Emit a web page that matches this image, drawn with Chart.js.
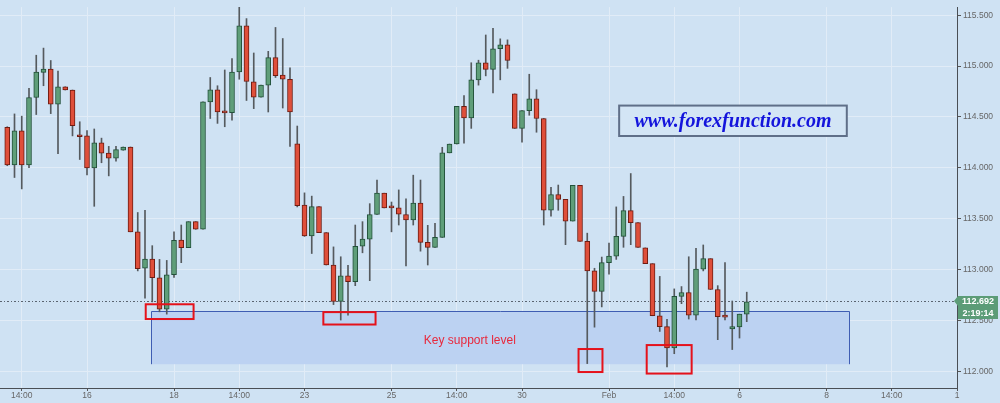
<!DOCTYPE html>
<html>
<head>
<meta charset="utf-8">
<style>
  * { margin: 0; padding: 0; box-sizing: border-box; }
  body { width: 1000px; height: 403px; overflow: hidden; background: #cfe2f3; }
  .chartBox { width: 1000px; height: 403px; }
</style>
</head>
<body>
<div class="chartBox"><canvas id="myChart"></canvas></div>

<script src="https://cdn.jsdelivr.net/npm/chart.js/dist/chart.umd.min.js"></script>
<script>
// 4h candles, oldest first
const opens = [
  114.398, 114.028, 114.363, 114.028, 114.691, 114.939, 114.971, 114.627, 114.797, 114.765,
  114.310, 114.314, 113.999, 114.247, 114.144, 114.095, 114.173, 114.205, 113.371, 113.013,
  113.103, 112.920, 112.611, 112.949, 113.290, 113.216, 113.471, 113.396, 114.649, 114.768,
  114.553, 114.543, 114.942, 115.396, 114.846, 114.694, 114.813, 115.084, 114.913, 114.871,
  114.237, 113.635, 113.332, 113.619, 113.364, 113.045, 112.688, 112.939, 112.881, 113.229,
  113.300, 113.541, 113.751, 113.611, 113.606, 113.541, 113.487, 113.654, 113.268, 113.219,
  113.316, 114.147, 114.234, 114.604, 114.491, 114.865, 115.033, 114.968, 115.171, 115.210,
  114.727, 114.388, 114.562, 114.678, 114.485, 113.583, 113.738, 113.690, 113.477, 113.828,
  113.277, 112.987, 112.785, 113.068, 113.132, 113.326, 113.580, 113.461, 113.213, 113.058,
  112.546, 112.440, 112.231, 112.736, 112.775, 112.553, 113.004, 113.107, 112.804, 112.546,
  112.417, 112.437, 112.562
];
const highs = [
  114.404, 114.530, 114.508, 114.781, 115.107, 115.177, 115.055, 114.952, 114.797, 114.765,
  114.453, 114.366, 114.382, 114.292, 114.211, 114.211, 114.205, 114.205, 113.561, 113.583,
  113.235, 113.100, 113.090, 113.371, 113.438, 113.471, 113.471, 114.649, 114.888, 114.807,
  114.962, 115.074, 115.620, 115.467, 115.129, 114.813, 115.145, 115.380, 115.271, 114.984,
  114.411, 113.754, 113.722, 113.619, 113.364, 113.223, 113.126, 113.042, 113.438, 113.471,
  113.648, 113.880, 113.751, 113.664, 113.783, 113.696, 113.928, 113.880, 113.435, 113.454,
  114.202, 114.234, 114.604, 114.710, 115.033, 115.058, 115.306, 115.371, 115.268, 115.258,
  114.727, 114.562, 114.920, 114.768, 114.485, 113.809, 113.831, 113.690, 113.828, 113.828,
  113.358, 113.013, 113.123, 113.261, 113.616, 113.719, 113.944, 113.461, 113.213, 113.058,
  112.933, 112.511, 112.810, 112.833, 113.126, 113.210, 113.242, 113.107, 112.842, 113.068,
  112.691, 112.562, 112.778
];
const lows = [
  114.021, 113.905, 113.793, 114.002, 114.524, 114.807, 114.533, 114.140, 114.765, 114.314,
  114.082, 113.931, 113.622, 114.050, 113.921, 114.066, 114.173, 113.371, 112.987, 112.720,
  112.682, 112.585, 112.562, 112.923, 113.068, 113.216, 113.396, 113.396, 114.485, 114.437,
  114.404, 114.469, 114.871, 114.662, 114.582, 114.694, 114.549, 114.888, 114.588, 114.211,
  113.616, 113.326, 113.158, 113.364, 113.045, 112.656, 112.504, 112.553, 112.842, 113.165,
  112.891, 113.541, 113.606, 113.371, 113.438, 113.036, 113.438, 113.181, 113.045, 113.219,
  113.316, 114.147, 114.234, 114.243, 114.388, 114.813, 114.904, 114.736, 114.865, 114.978,
  114.388, 114.253, 114.517, 114.350, 113.438, 113.525, 113.583, 113.245, 113.477, 113.277,
  112.076, 112.434, 112.633, 112.955, 113.100, 113.219, 113.245, 113.219, 113.058, 112.546,
  112.392, 112.044, 112.173, 112.665, 112.514, 112.504, 112.987, 112.804, 112.311, 112.504,
  112.214, 112.327, 112.488
];
const closes = [
  114.028, 114.363, 114.028, 114.691, 114.942, 114.971, 114.627, 114.797, 114.765, 114.414,
  114.306, 113.999, 114.247, 114.144, 114.095, 114.179, 114.205, 113.371, 113.010, 113.103,
  112.920, 112.611, 112.949, 113.287, 113.216, 113.471, 113.396, 114.649, 114.768, 114.549,
  114.540, 114.942, 115.396, 114.849, 114.694, 114.813, 115.084, 114.907, 114.871, 114.549,
  113.628, 113.332, 113.619, 113.364, 113.045, 112.688, 112.939, 112.881, 113.229, 113.300,
  113.541, 113.751, 113.606, 113.607, 113.545, 113.487, 113.654, 113.268, 113.219, 113.316,
  114.147, 114.234, 114.604, 114.491, 114.865, 115.033, 114.968, 115.171, 115.210, 115.055,
  114.388, 114.562, 114.678, 114.485, 113.583, 113.738, 113.690, 113.477, 113.828, 113.277,
  112.987, 112.785, 113.068, 113.132, 113.326, 113.580, 113.461, 113.219, 113.058, 112.546,
  112.440, 112.231, 112.736, 112.775, 112.553, 113.004, 113.107, 112.804, 112.537, 112.533,
  112.440, 112.562, 112.682
];

// x axis: 133 slots, only some carry a label
const slotCount = 133;
const xTickIdx  = [3, 12, 24, 33, 42, 54, 63, 72, 84, 93, 102, 114, 123, 132];
const xTickText = ['14:00', '16', '18', '14:00', '23', '25', '14:00', '30', 'Feb', '14:00', '6', '8', '14:00', '1'];
const yTicks = [112.0, 112.5, 113.0, 113.5, 114.0, 114.5, 115.0, 115.5];

const lastPrice = 112.692;
const barTimer = '2:19:14';

// annotations in data units: [fromSlot, toSlot, topPrice, bottomPrice]
const supportZone = [20.8, 117.1, 112.588, 112.070];
const redBoxes = [
  [20.1, 26.7, 112.659, 112.514],
  [44.6, 51.8, 112.582, 112.460],
  [79.8, 83.1, 112.219, 111.993],
  [89.2, 95.4, 112.258, 111.978]
];
const supportText = ['Key support level', 64.8, 112.305];
const watermark = ['www.forexfunction.com', 85.4, 116.8, 114.612, 114.313];

const labels = [];
for (let k = 0; k < slotCount; k++) {
  const p = xTickIdx.indexOf(k);
  labels.push(p >= 0 ? xTickText[p] : '');
}
const bodyData = labels.map((_, k) => (k >= 1 && k <= opens.length) ? [opens[k - 1], closes[k - 1]] : null);
const wickData = labels.map((_, k) => (k >= 1 && k <= opens.length) ? [lows[k - 1], highs[k - 1]] : null);

const isUp = (k) => closes[k - 1] >= opens[k - 1];
const gridColor = '#e1ecf7';

const overlay = {
  id: 'overlay',
  beforeDraw(chart) {
    const c = chart.ctx;
    c.save();
    c.fillStyle = '#cfe2f3';
    c.fillRect(0, 0, chart.width, chart.height);
    c.restore();
  },
  beforeDatasetsDraw(chart) {
    const { ctx: c, scales: { x, y }, chartArea: a } = chart;
    c.save();
    // support zone
    const l = Math.round(x.getPixelForValue(supportZone[0])) + 0.5;
    const r = Math.round(x.getPixelForValue(supportZone[1])) + 0.5;
    const t = Math.round(y.getPixelForValue(supportZone[2])) + 0.5;
    const b = y.getPixelForValue(supportZone[3]);
    c.fillStyle = '#bcd2f2';
    c.fillRect(l, t, r - l, b - t);
    c.strokeStyle = '#3f5db3';
    c.lineWidth = 1;
    c.beginPath();
    c.moveTo(l, b); c.lineTo(l, t); c.lineTo(r, t); c.lineTo(r, b);
    c.stroke();
    // last price line
    const py = Math.round(y.getPixelForValue(lastPrice)) + 0.5;
    c.setLineDash([2, 2, 1, 2]);
    c.strokeStyle = '#5b6470';
    c.beginPath();
    c.moveTo(a.left, py); c.lineTo(a.right, py);
    c.stroke();
    c.restore();
  },
  afterDatasetsDraw(chart) {
    const { ctx: c, scales: { x, y }, chartArea: a } = chart;
    c.save();
    // red highlight boxes
    c.strokeStyle = '#e5121b';
    c.lineWidth = 2;
    redBoxes.forEach(bx => {
      const l = x.getPixelForValue(bx[0]), r = x.getPixelForValue(bx[1]);
      const t = y.getPixelForValue(bx[2]), b = y.getPixelForValue(bx[3]);
      c.strokeRect(l, t, r - l, b - t);
    });
    // zone caption
    c.fillStyle = '#e8283c';
    c.font = '12px "Liberation Sans", Arial, sans-serif';
    c.textAlign = 'center';
    c.textBaseline = 'middle';
    c.fillText(supportText[0], x.getPixelForValue(supportText[1]), y.getPixelForValue(supportText[2]));
    // watermark
    const wl = x.getPixelForValue(watermark[1]), wr = x.getPixelForValue(watermark[2]);
    const wt = y.getPixelForValue(watermark[3]), wb = y.getPixelForValue(watermark[4]);
    c.fillStyle = '#d3e5f5';
    c.fillRect(wl, wt, wr - wl, wb - wt);
    c.strokeStyle = '#5f6f88';
    c.lineWidth = 2;
    c.strokeRect(wl, wt, wr - wl, wb - wt);
    c.fillStyle = '#1414dc';
    c.font = 'italic bold 20px "Liberation Serif", "Times New Roman", serif';
    c.fillText(watermark[0], (wl + wr) / 2, (wt + wb) / 2 + 1);
    // price tag on the axis
    const py = y.getPixelForValue(lastPrice);
    const tl = a.right + 1, tr = a.right + 41;
    c.fillStyle = '#5c9c77';
    c.beginPath();
    c.moveTo(a.right - 3, py);
    c.lineTo(tl, py - 5);
    c.lineTo(tr, py - 5);
    c.lineTo(tr, py + 18);
    c.lineTo(tl, py + 18);
    c.lineTo(tl, py + 5);
    c.closePath();
    c.fill();
    c.fillStyle = '#ffffff';
    c.font = 'bold 9px "Liberation Sans", Arial, sans-serif';
    c.textAlign = 'center';
    c.fillText(lastPrice.toFixed(3), (tl + tr) / 2, py + 1);
    c.fillText(barTimer, (tl + tr) / 2, py + 13);
    c.restore();
  }
};

const config = {
  type: 'bar',
  data: {
    labels,
    datasets: [
      {
        label: 'body',
        data: bodyData,
        grouped: false,
        order: 1,
        barThickness: 5,
        minBarLength: 2,
        borderWidth: 1,
        borderSkipped: false,
        backgroundColor: (ctx) => isUp(ctx.dataIndex) ? '#5f9e79' : '#df4f3a',
        borderColor: (ctx) => isUp(ctx.dataIndex) ? '#22513a' : '#6e1c12'
      },
      {
        label: 'wick',
        data: wickData,
        grouped: false,
        order: 2,
        barThickness: 1,
        borderWidth: 0,
        backgroundColor: '#555a5e'
      }
    ]
  },
  options: {
    responsive: true,
    maintainAspectRatio: false,
    animation: false,
    layout: { padding: 0 },
    plugins: { legend: { display: false }, tooltip: { enabled: false } },
    scales: {
      x: {
        type: 'category',
        offset: false,
        afterFit: (s) => { s.height = 15; },
        grid: {
          offset: false,
          tickLength: 3,
          color: (ctx) => labels[ctx.index] ? gridColor : 'rgba(0,0,0,0)',
          tickColor: (ctx) => labels[ctx.index] ? '#555' : 'rgba(0,0,0,0)'
        },
        border: { color: '#4a4f55' },
        ticks: {
          autoSkip: false,
          maxRotation: 0,
          padding: 0,
          color: '#666',
          font: { family: '"Liberation Sans", Arial, sans-serif', size: 8.5 },
          callback: (v, i) => labels[i]
        }
      },
      y: {
        position: 'right',
        min: 111.836,
        max: 115.580,
        afterFit: (s) => { s.width = 43; },
        afterBuildTicks: (s) => { s.ticks = yTicks.map(v => ({ value: v })); },
        grid: { color: gridColor, tickLength: 4, tickColor: '#555' },
        border: { color: '#4a4f55' },
        ticks: {
          padding: 2,
          color: '#666',
          font: { family: '"Liberation Sans", Arial, sans-serif', size: 8.5 },
          callback: (v) => Number(v).toFixed(3)
        }
      }
    }
  },
  plugins: [overlay]
};

const myChart = new Chart(document.getElementById('myChart'), config);
</script>
</body>
</html>
